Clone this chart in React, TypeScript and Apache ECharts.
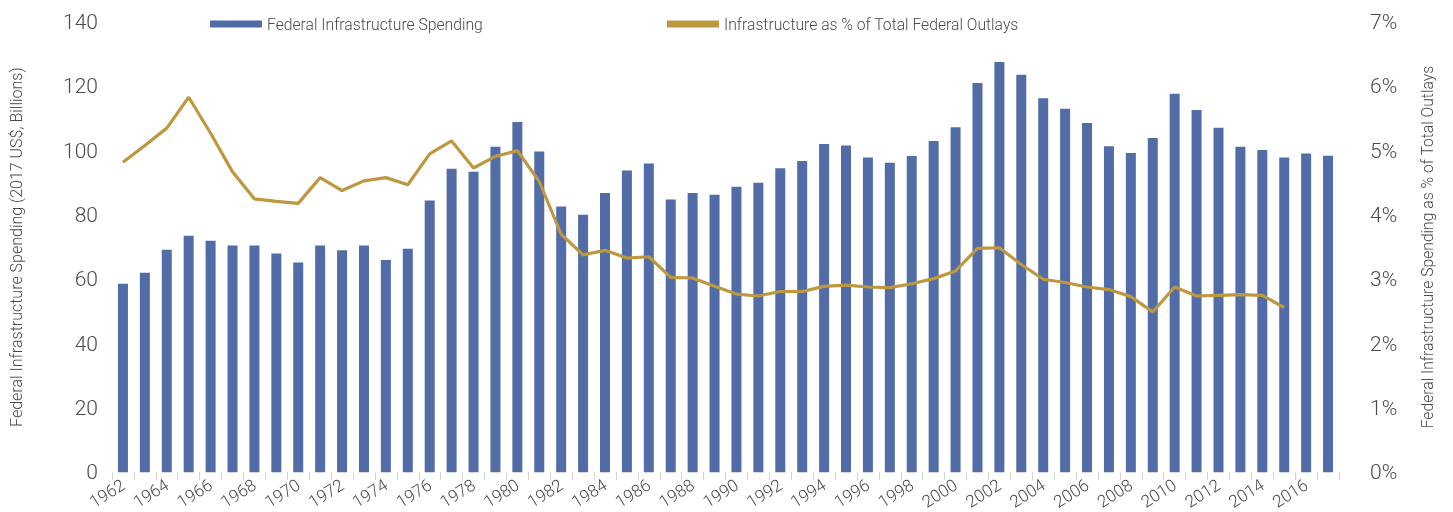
import React, { useEffect, useRef } from "react";
import * as echarts from "echarts";

const years = [
  "1962", "1963", "1964", "1965", "1966", "1967", "1968", "1969", "1970", "1971",
  "1972", "1973", "1974", "1975", "1976", "1977", "1978", "1979", "1980", "1981",
  "1982", "1983", "1984", "1985", "1986", "1987", "1988", "1989", "1990", "1991",
  "1992", "1993", "1994", "1995", "1996", "1997", "1998", "1999", "2000", "2001",
  "2002", "2003", "2004", "2005", "2006", "2007", "2008", "2009", "2010", "2011",
  "2012", "2013", "2014", "2015", "2016", "2017",
];

const spending = [
  58.6, 62, 69.2, 73.5, 72, 70.5, 70.5, 68, 65.2, 70.5,
  69, 70.5, 66, 69.5, 84.5, 94.4, 93.4, 101.2, 108.9, 99.7,
  82.6, 80.1, 86.8, 93.8, 96, 84.8, 86.8, 86.3, 88.8, 90,
  94.5, 96.8, 102.1, 101.6, 97.9, 96.2, 98.3, 103, 107.3, 121,
  127.6, 123.6, 116.3, 113, 108.6, 101.4, 99.3, 103.9, 117.7, 112.6,
  107.1, 101.2, 100.2, 97.9, 99.1, 98.4,
];

const pctOfOutlays = [
  4.82, 5.08, 5.35, 5.83, 5.27, 4.67, 4.25, 4.21, 4.18, 4.58,
  4.38, 4.53, 4.58, 4.47, 4.95, 5.15, 4.73, 4.91, 5.0, 4.52,
  3.7, 3.38, 3.45, 3.33, 3.35, 3.03, 3.02, 2.89, 2.77, 2.74,
  2.81, 2.81, 2.89, 2.91, 2.88, 2.87, 2.93, 3.01, 3.13, 3.48,
  3.49, 3.23, 3.0, 2.95, 2.88, 2.84, 2.73, 2.49, 2.88, 2.74,
  2.75, 2.76, 2.75, 2.56, null, null,
];

const barName = "Federal Infrastructure Spending";
const lineName = "Infrastructure as % of Total Federal Outlays";
const leftTitle = "Federal Infrastructure Spending (2017 US$, Billions)";
const rightTitle = "Federal Infrastructure Spending as % of Total Outlays";

const FONT = "Roboto";
const TEXT = "#4a4a4a";

export default function App() {
  const ref = useRef<HTMLDivElement>(null);

  useEffect(() => {
    if (!ref.current) return;
    const chart = echarts.init(ref.current, null, { renderer: "svg" });
    chart.setOption({
      animation: false,
      textStyle: { fontFamily: FONT, fontWeight: 300, color: TEXT },
      grid: { left: 112, right: 114, top: 22, bottom: 39, containLabel: false },
      legend: [
        {
          data: [barName],
          left: 205,
          top: 11,
          itemWidth: 52,
          itemHeight: 7,
          itemStyle: { borderWidth: 0 },
          icon: "rect",
          textStyle: { fontFamily: FONT, fontWeight: 300, fontSize: 15.7, color: TEXT },
        },
        {
          data: [lineName],
          left: 662,
          top: 11,
          itemWidth: 52,
          itemHeight: 7,
          icon: "rect",
          textStyle: { fontFamily: FONT, fontWeight: 300, fontSize: 15.7, color: TEXT },
        },
      ],
      xAxis: {
        type: "category",
        data: years,
        boundaryGap: true,
        axisLine: { show: false },
        axisTick: { show: true, interval: 0, length: 8, lineStyle: { color: "#d4d4d4", width: 1 } },
        axisLabel: {
          interval: 1,
          rotate: 32,
          fontFamily: FONT,
          fontWeight: 300,
          fontSize: 17,
          color: TEXT,
          margin: 11,
        },
        splitLine: { show: false },
      },
      yAxis: [
        {
          type: "value",
          min: 0,
          max: 140,
          interval: 20,
          name: leftTitle,
          nameLocation: "middle",
          nameRotate: 90,
          nameGap: 88,
          nameTextStyle: { fontFamily: FONT, fontWeight: 300, fontSize: 16, color: TEXT },
          axisLine: { show: false },
          axisTick: { show: false },
          splitLine: { show: false },
          axisLabel: { fontFamily: FONT, fontWeight: 300, fontSize: 21, color: TEXT, margin: 14 },
        },
        {
          type: "value",
          min: 0,
          max: 7,
          interval: 1,
          position: "right",
          name: rightTitle,
          nameLocation: "middle",
          nameRotate: 90,
          nameGap: 80,
          nameTextStyle: { fontFamily: FONT, fontWeight: 300, fontSize: 15.7, color: TEXT },
          axisLine: { show: false },
          axisTick: { show: false },
          splitLine: { show: false },
          axisLabel: {
            formatter: "{value}%",
            fontFamily: FONT,
            fontWeight: 300,
            fontSize: 21,
            color: TEXT,
            margin: 31,
          },
        },
      ],
      series: [
        {
          name: barName,
          type: "bar",
          data: spending,
          yAxisIndex: 0,
          barWidth: 10,
          itemStyle: { color: "#516ca6" },
        },
        {
          name: lineName,
          type: "line",
          data: pctOfOutlays,
          yAxisIndex: 1,
          showSymbol: false,
          symbol: "none",
          connectNulls: false,
          lineStyle: { color: "#bd983e", width: 3.2 },
          itemStyle: { color: "#bd983e" },
        },
      ],
    });
    return () => chart.dispose();
  }, []);

  return (
    <div
      ref={ref}
      style={{ position: "fixed", left: 0, top: 0, width: 1453, height: 512 }}
    />
  );
}
